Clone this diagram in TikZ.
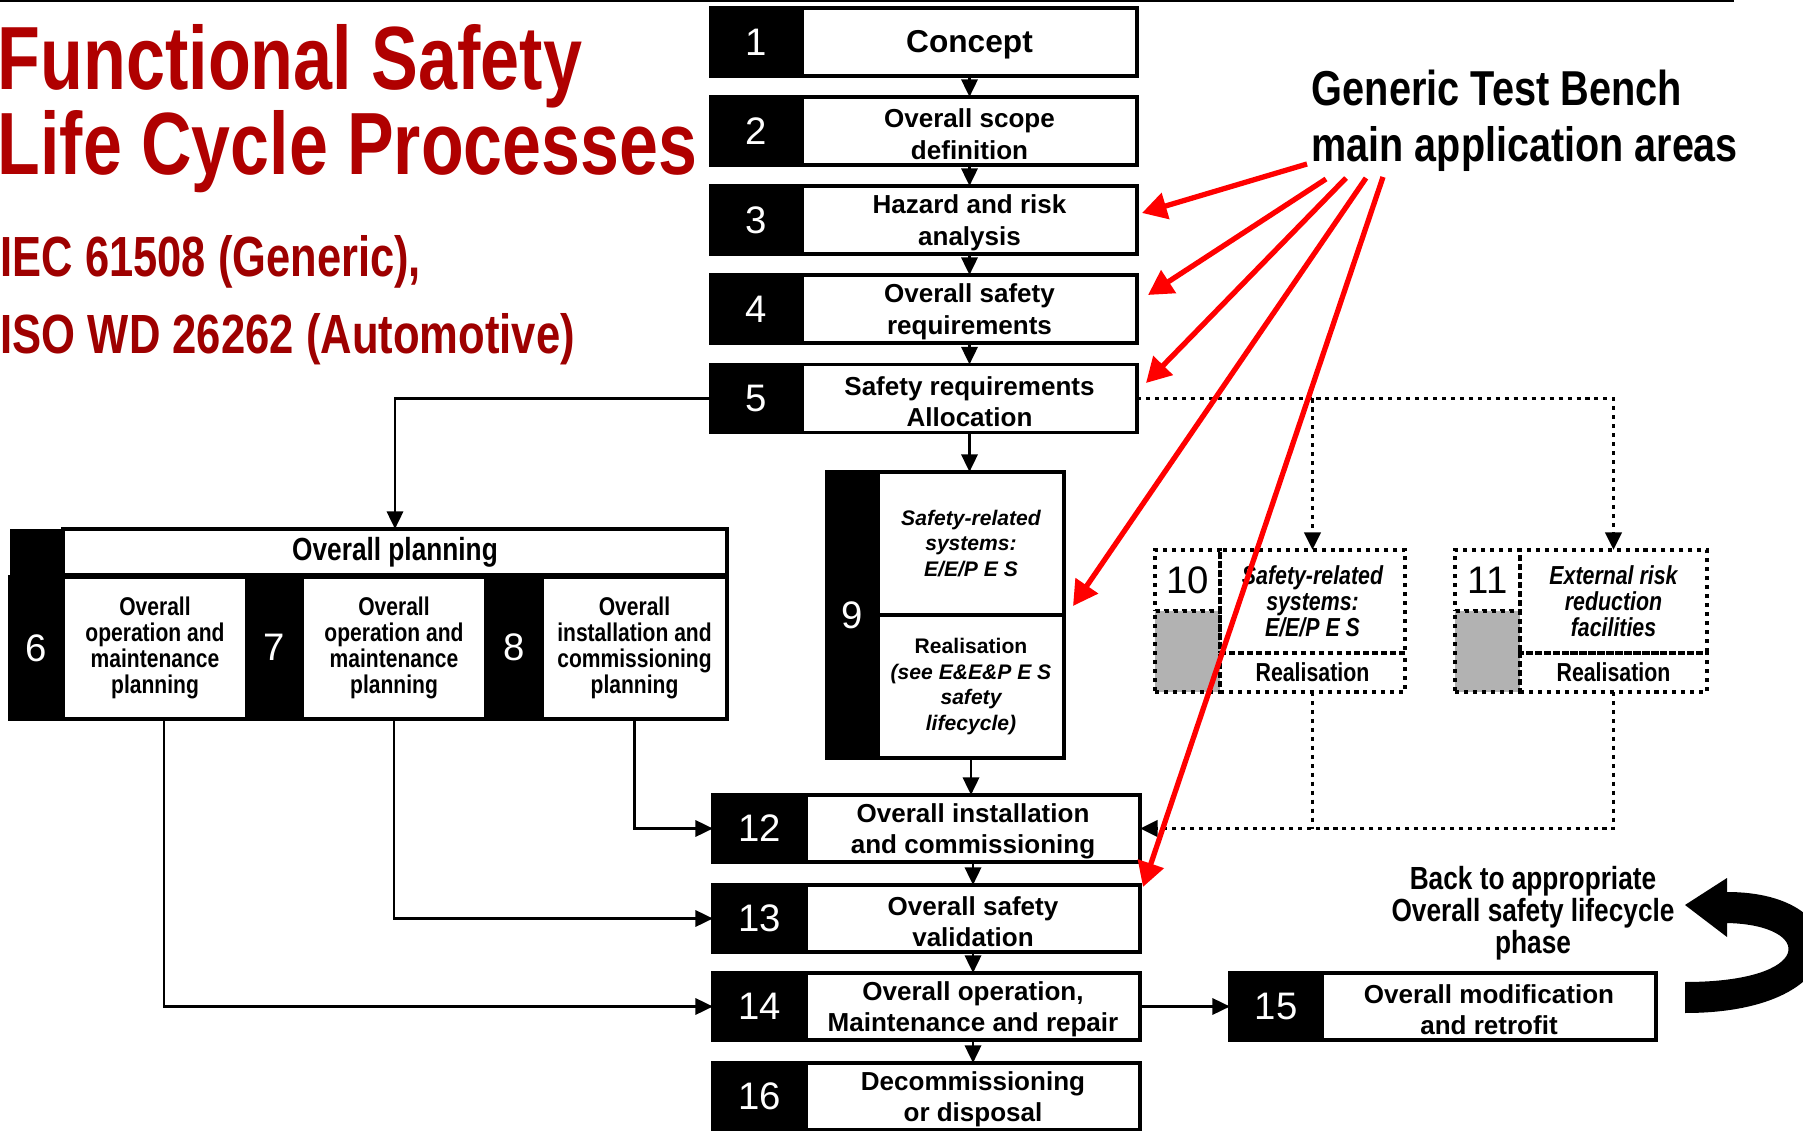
\documentclass[tikz,border=0pt]{standalone}
\usepackage{fontspec}
\usepackage{graphicx}
\setmainfont{Liberation Sans}
\newfontfamily\narrowsf[FakeStretch=0.82]{Liberation Sans}
\usetikzlibrary{arrows.meta}

\definecolor{titlered}{RGB}{176,0,0}
\definecolor{subred}{RGB}{158,0,0}
\definecolor{pointred}{RGB}{255,0,0}
\definecolor{cellgrey}{RGB}{178,178,178}

\newcommand{\lcNum}{\fontsize{10.9pt}{12pt}\selectfont}
\newcommand{\lcStepFont}{\bfseries\fontsize{7.4pt}{8.95pt}\selectfont}
\newcommand{\lcConceptFont}{\bfseries\fontsize{9pt}{10pt}\selectfont}
\newcommand{\lcPlanFont}{\narrowsf\bfseries\fontsize{7.3pt}{7.4pt}\selectfont}
\newcommand{\lcHeadFont}{\narrowsf\bfseries\fontsize{9.1pt}{10pt}\selectfont}
\newcommand{\lcSysFont}{\bfseries\fontsize{6pt}{7.3pt}\selectfont}
\newcommand{\lcExtFont}{\narrowsf\bfseries\fontsize{7.4pt}{7.4pt}\selectfont}
\newcommand{\lcBackFont}{\narrowsf\bfseries\fontsize{9.1pt}{9.1pt}\selectfont}

\begin{document}
\begin{tikzpicture}[x=0.01cm, y=-0.01cm,
  numcell/.style={draw=black, fill=black, line width=1.1pt, text=white, font=\lcNum, inner sep=0pt, outer sep=0pt},
  cell/.style={draw=black, fill=white, line width=1.1pt, inner sep=0pt, outer sep=0pt},
  steptext/.style={align=center, inner sep=0pt, font=\lcStepFont, yshift=-0.03cm},
  plantext/.style={align=center, inner sep=0pt, font=\lcPlanFont},
  dotcell/.style={draw=black, line width=1pt, dash pattern=on 1.15pt off 1.4pt, inner sep=0pt, outer sep=0pt},
  conn/.style={draw=black, line width=0.8pt, -{Triangle[length=5pt,width=4.6pt]}},
  dotconn/.style={draw=black, line width=1pt, dash pattern=on 1.15pt off 1.4pt},
  dotarrow/.style={dotconn, -{Triangle[length=5pt,width=4.6pt]}},
  pointer/.style={draw=pointred, line width=1.5pt, -{Triangle[length=7pt,width=7.5pt]}},
]
\useasboundingbox (0,0) rectangle (1803,1131);
\fill[white] (0,0) rectangle (1803,1131);
\draw[line width=0.6pt] (0,1) -- (1734,1);

% ---------- headings ----------
\node[anchor=base west, inner sep=0pt, text=titlered] (ttlA) at (-3,90)
  {\resizebox{5.84cm}{0.65cm}{\bfseries Functional Safety}};
\node[anchor=base west, inner sep=0pt, text=titlered] (ttlB) at (-3,175)
  {\resizebox{6.99cm}{0.64cm}{\bfseries Life Cycle Processes}};
\node[anchor=base west, inner sep=0pt, text=subred] (stdA) at (0,277)
  {\resizebox{4.2cm}{0.41cm}{\bfseries IEC 61508 (Generic),}};
\node[anchor=base west, inner sep=0pt, text=subred] (stdB) at (0,354)
  {\resizebox{5.74cm}{0.40cm}{\bfseries ISO WD 26262 (Automotive)}};

\node[anchor=base west, inner sep=0pt] (gtbA) at (1311,106)
  {\resizebox{3.7cm}{0.355cm}{\bfseries Generic Test Bench}};
\node[anchor=base west, inner sep=0pt] (gtbB) at (1311,162)
  {\resizebox{4.26cm}{0.35cm}{\bfseries main application areas}};

% ---------- phases 1 to 5 ----------
\node[numcell, minimum width=0.91cm, minimum height=0.68cm] (n1) at (756.5,42) {1};
\node[cell, minimum width=3.35cm, minimum height=0.68cm] (b1) at (969.5,42) {};
\node[steptext, font=\lcConceptFont] (t1) at (b1) {Concept};

\node[numcell, minimum width=0.91cm, minimum height=0.68cm] (n2) at (756.5,131) {2};
\node[cell, minimum width=3.35cm, minimum height=0.68cm] (b2) at (969.5,131) {};
\node[steptext] (t2) at (b2) {Overall scope\\definition};

\node[numcell, minimum width=0.91cm, minimum height=0.68cm] (n3) at (756.5,220) {3};
\node[cell, minimum width=3.35cm, minimum height=0.68cm] (b3) at (969.5,220) {};
\node[steptext] (t3) at (b3) {Hazard and risk\\analysis};

\node[numcell, minimum width=0.91cm, minimum height=0.68cm] (n4) at (756.5,309) {4};
\node[cell, minimum width=3.35cm, minimum height=0.68cm] (b4) at (969.5,309) {};
\node[steptext] (t4) at (b4) {Overall safety\\requirements};

\node[numcell, minimum width=0.91cm, minimum height=0.68cm] (n5) at (756.5,398.5) {5};
\node[cell, minimum width=3.35cm, minimum height=0.68cm] (b5) at (969.5,398.5) {};
\node[steptext] (t5) at (b5) {Safety requirements\\Allocation};

% ---------- phase 9 ----------
\node[numcell, minimum width=0.51cm, minimum height=2.86cm] (n9) at (852.5,615) {9};
\node[cell, minimum width=1.86cm, minimum height=1.43cm] (s9a) at (971,543.5) {};
\node[cell, minimum width=1.86cm, minimum height=1.43cm] (s9b) at (971,686.5) {};
\node[align=center, inner sep=0pt, font=\lcSysFont\itshape] (t9a) at (s9a)
  {Safety-related\\systems:\\E/E/P E S};
\node[align=center, inner sep=0pt, font=\lcSysFont] (t9b) at (s9b)
  {Realisation\\\itshape(see E\&E\&P E S\\\itshape safety\\\itshape lifecycle)};

% ---------- overall planning, phases 6 to 8 ----------
\fill[black] (10,529) rectangle (63,719);
\node[numcell, minimum width=0.53cm, minimum height=1.42cm] (n6) at (36.5,648) {6};
\node[cell, minimum width=6.64cm, minimum height=0.46cm] (plan) at (395,552) {};
\node[inner sep=0pt, font=\lcHeadFont] (tplan) at (plan) {Overall planning};
\node[numcell, minimum width=0.55cm, minimum height=1.44cm] (n7) at (274.5,647) {7};
\node[numcell, minimum width=0.56cm, minimum height=1.44cm] (n8) at (514,647) {8};
\node[cell, minimum width=1.84cm, minimum height=1.42cm] (p6) at (155,648) {};
\node[cell, minimum width=1.84cm, minimum height=1.42cm] (p7) at (394,648) {};
\node[cell, minimum width=1.85cm, minimum height=1.42cm] (p8) at (634.5,648) {};
\node[plantext] (tp6) at (p6) {Overall\\operation and\\maintenance\\planning};
\node[plantext] (tp7) at (p7) {Overall\\operation and\\maintenance\\planning};
\node[plantext] (tp8) at (p8) {Overall\\installation and\\commissioning\\planning};

% ---------- phases 10 and 11 (dotted) ----------
\node[dotcell, fill=white, font=\lcNum, minimum width=0.65cm, minimum height=0.61cm] (c10) at (1187.5,580.5) {10};
\node[dotcell, fill=cellgrey, minimum width=0.65cm, minimum height=0.81cm] (g10) at (1187.5,651.5) {};
\node[dotcell, minimum width=1.85cm, minimum height=1.03cm] (t10) at (1312.5,601.5) {};
\node[dotcell, minimum width=1.85cm, minimum height=0.39cm] (r10) at (1312.5,672.5) {};
\node[align=center, inner sep=0pt, font=\lcExtFont\itshape] (tt10) at (t10) {Safety-related\\systems:\\E/E/P E S};
\node[inner sep=0pt, font=\lcExtFont] (tr10) at (r10) {Realisation};

\node[dotcell, fill=white, font=\lcNum, minimum width=0.65cm, minimum height=0.61cm] (c11) at (1487.5,580.5) {11};
\node[dotcell, fill=cellgrey, minimum width=0.65cm, minimum height=0.81cm] (g11) at (1487.5,651.5) {};
\node[dotcell, minimum width=1.87cm, minimum height=1.03cm] (t11) at (1613.5,601.5) {};
\node[dotcell, minimum width=1.87cm, minimum height=0.39cm] (r11) at (1613.5,672.5) {};
\node[align=center, inner sep=0pt, font=\lcExtFont\itshape] (tt11) at (t11) {External risk\\reduction\\facilities};
\node[inner sep=0pt, font=\lcExtFont] (tr11) at (r11) {Realisation};

% ---------- phases 12 to 16 ----------
\node[numcell, minimum width=0.93cm, minimum height=0.67cm] (n12) at (759.5,828.5) {12};
\node[cell, minimum width=3.34cm, minimum height=0.67cm] (b12) at (973,828.5) {};
\node[steptext] (t12) at (b12) {Overall installation\\and commissioning};

\node[numcell, minimum width=0.93cm, minimum height=0.67cm] (n13) at (759.5,918.5) {13};
\node[cell, minimum width=3.34cm, minimum height=0.67cm] (b13) at (973,918.5) {};
\node[steptext] (t13) at (b13) {Overall safety\\validation};

\node[numcell, minimum width=0.93cm, minimum height=0.67cm] (n14) at (759.5,1006.5) {14};
\node[cell, minimum width=3.34cm, minimum height=0.67cm] (b14) at (973,1006.5) {};
\node[steptext] (t14) at (b14) {Overall operation,\\Maintenance and repair};

\node[numcell, minimum width=0.93cm, minimum height=0.67cm] (n16) at (759.5,1096.5) {16};
\node[cell, minimum width=3.34cm, minimum height=0.67cm] (b16) at (973,1096.5) {};
\node[steptext] (t16) at (b16) {Decommissioning\\or disposal};

\node[numcell, minimum width=0.92cm, minimum height=0.67cm] (n15) at (1276,1006.5) {15};
\node[cell, minimum width=3.34cm, minimum height=0.67cm] (b15) at (1489,1006.5) {};
\node[steptext] (t15) at (b15) {Overall modification\\and retrofit};

% ---------- flow connectors ----------
\draw[conn] (b1.south) -- (b2.north);
\draw[conn] (b2.south) -- (b3.north);
\draw[conn] (b3.south) -- (b4.north);
\draw[conn] (b4.south) -- (b5.north);
\draw[conn] (n5.west) -| (plan.north);
\draw[conn] (b5.south) -- (b5.south |- s9a.north);
\draw[conn] (s9b.south) -- (s9b.south |- b12.north);
\draw[conn] (b12.south) -- (b13.north);
\draw[conn] (b13.south) -- (b14.north);
\draw[conn] (b14.south) -- (b16.north);
\draw[conn] (p8.south) |- (n12.west);
\draw[conn] (p7.south) |- (n13.west);
\draw[conn] ([xshift=0.09cm]p6.south) |- (n14.west);
\draw[conn] (b14.east) -- (n15.west);

\draw[dotarrow] (b5.east) -| (t11.north);
\draw[dotarrow] (t10.north |- b5.east) -- (t10.north);
\draw[dotconn] (r10.south) -- (r10.south |- b12.east);
\draw[dotarrow] (r11.south) |- (b12.east);

% ---------- return to an earlier phase ----------
\node[align=center, inner sep=0pt, font=\lcBackFont] (back) at (1533,913)
  {Back to appropriate\\Overall safety lifecycle\\phase};
\fill[black] (1685,1013) .. controls (1860,1013) and (1860,892) .. (1727,892)
  -- (1727,878) -- (1685,905) -- (1727,937) -- (1727,923)
  .. controls (1815,925) and (1815,982) .. (1685,982) -- cycle;

% ---------- test bench pointers ----------
\coordinate (pA) at (1307,164);
\coordinate (pB) at (1326,179);
\coordinate (pC) at (1346,178);
\coordinate (pD) at (1366,178);
\coordinate (pE) at (1383,177);
\coordinate (qA) at (1142,213);
\coordinate (qB) at (1148,295);
\coordinate (qC) at (1146,383);
\coordinate (qD) at (1073,606);
\coordinate (qE) at (1143,887);
\draw[pointer] (pA) -- (qA);
\draw[pointer] (pB) -- (qB);
\draw[pointer] (pC) -- (qC);
\draw[pointer] (pD) -- (qD);
\draw[pointer] (pE) -- (qE);
\end{tikzpicture}
\end{document}
